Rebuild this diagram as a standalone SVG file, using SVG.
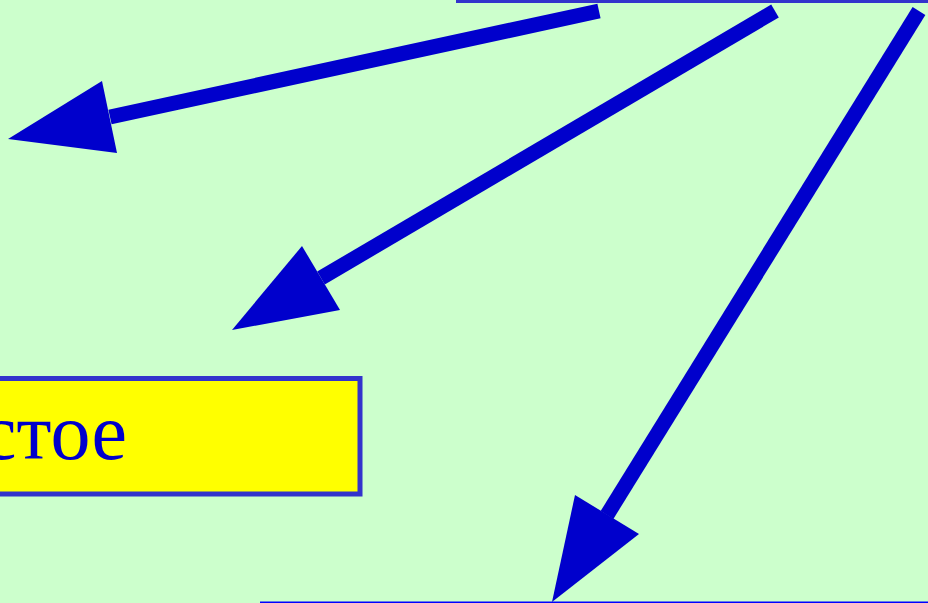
<svg xmlns="http://www.w3.org/2000/svg" width="928" height="603" viewBox="0 0 928 603">
<style>
.shaft{stroke:#0000CC;stroke-width:15;fill:none}
.head{fill:#0000CC}
.lbl{font-family:"Liberation Serif","Times New Roman",serif;font-size:80px;fill:#0000CC}
</style>
<rect x="0" y="0" width="928" height="603" fill="#CCFFCC"/>
<g id="top-box">
<rect x="456" y="0" width="472" height="3" fill="#3333CC"/>
</g>
<g id="bottom-box">
<rect x="260" y="601.5" width="668" height="1.5" fill="#0000FF"/>
</g>
<g id="box-left">
<rect x="-10" y="378.5" width="370" height="115.5" fill="#FFFF00" stroke="#3333CC" stroke-width="5"/>
<text class="lbl" x="127" y="459" text-anchor="end">стое</text>
</g>
<g id="connectors">
<line class="shaft" x1="599" y1="11" x2="110" y2="117"/>
<polygon class="head" points="8,139 102,81 117,153"/>
<line class="shaft" x1="775" y1="11" x2="321" y2="278"/>
<polygon class="head" points="232,330 302,246 340,310"/>
<line class="shaft" x1="919" y1="11" x2="607" y2="515"/>
<polygon class="head" points="552,602 575,495 639,534"/>
</g>
</svg>
